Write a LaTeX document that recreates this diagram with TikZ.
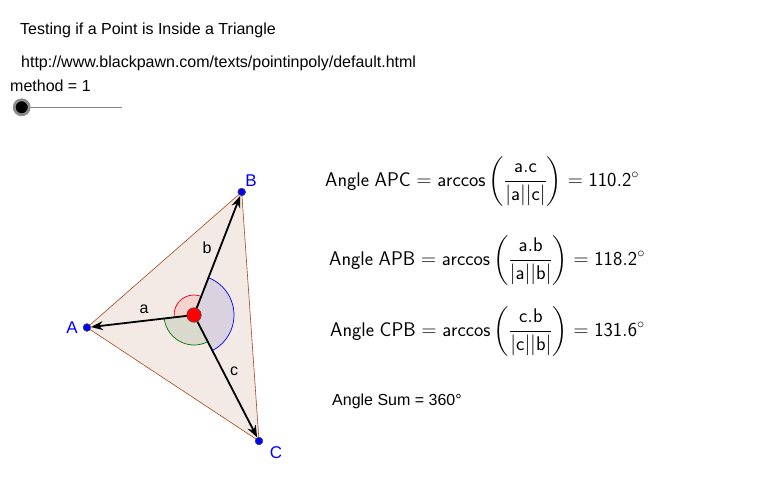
\documentclass[tikz,border=0pt]{standalone}
\usepackage{amsmath}
\usepackage{fontspec}
\setmainfont{Liberation Sans}
\usetikzlibrary{arrows.meta}
\definecolor{triangle}{RGB}{243,234,229}
\definecolor{triedge}{RGB}{165,75,30}
\tikzset{
    vertex/.style={circle,draw=black!70,fill=blue,inner sep=0,minimum size=7.5pt,line width=0.5pt},
    vertexlabel/.style={text=blue,font=\fontsize{17}{17}\selectfont,inner sep=0},
    veclabel/.style={font=\fontsize{16}{16}\selectfont,inner sep=0},
    plain/.style={anchor=base west,font=\fontsize{16}{16}\selectfont,inner sep=0},
    formula/.style={anchor=base west,font=\fontsize{19.8}{19.8}\selectfont,inner sep=0},
    vec/.style={line width=1.8pt,-{Stealth[length=12pt,width=9pt]}},
    edge/.style={draw=triedge,line width=0.6pt}
}
\newcommand{\mt}[1]{\mathsf{#1}}
\begin{document}
\begin{tikzpicture}[x=1pt,y=1pt]
    \useasboundingbox (0,0) rectangle (762,-487);
    \fill[white] (0,0) rectangle (762,-487);

    \node[vertex] (A) at (87,-327.5) {};
    \node[vertex] (B) at (241.7,-192) {};
    \node[vertex] (C) at (259,-441) {};
    \coordinate (P) at (194,-315);

    \fill[fill=triangle] (A.center) -- (B.center) -- (C.center) -- cycle;
    \draw[edge] (A.center) -- (B.center) -- (C.center) -- cycle;

    \filldraw[draw=red!90!blue,fill=red,fill opacity=0.1,line width=0.7pt] (P) -- +(68.9:20) arc (68.9:186.7:20) -- cycle;
    \filldraw[draw=blue,fill=blue!70!black,fill opacity=0.1,line width=0.7pt] (P) -- +(-62.7:40) arc (-62.7:68.9:40) -- cycle;
    \filldraw[draw=green!45!black,fill=green!30!black,fill opacity=0.1,line width=0.7pt] (P) -- +(186.7:30) arc (186.7:297.3:30) -- cycle;

    \draw[vec] (P) -- (A);
    \draw[vec] (P) -- (B);
    \draw[vec] (P) -- (C);

    \node[vertex] at (A) {};
    \node[vertex] at (B) {};
    \node[vertex] at (C) {};
    \node[circle,draw=black!70,fill=red,inner sep=0,minimum size=14.5pt,line width=0.6pt] (Pdot) at (P) {};

    \node[vertexlabel] (Alabel) at (72,-328) {A};
    \node[vertexlabel] (Blabel) at (251,-180.5) {B};
    \node[vertexlabel] (Clabel) at (276,-452.5) {C};
    \node[veclabel] (alabel) at (144,-309.5) {a};
    \node[veclabel] (blabel) at (207,-247.5) {b};
    \node[veclabel] (clabel) at (234,-371) {c};

    \node[plain] (title) at (20,-35) {Testing if a Point is Inside a Triangle};
    \node[plain] (url) at (21,-67) {http://www.blackpawn.com/texts/pointinpoly/default.html};
    \node[plain] (method) at (10,-91.5) {method = 1};

    \coordinate (sliderend) at (122,-107.3);
    \node[circle,fill=black,draw=black!45,line width=2.8pt,inner sep=0,minimum size=15pt] (knob) at (21.7,-107.3) {};
    \draw[black!50,line width=0.7pt] (knob) -- (sliderend);

    \node[formula] (apc) at (325,-186.5) {$\mt{Angle\ APC}=\mt{arccos}\left(\dfrac{\mt{a.c}}{|\mt{a}||\mt{c}|}\right)=\mt{110.2}^\circ$};
    \node[formula] (apb) at (329,-265.5) {$\mt{Angle\ APB}=\mt{arccos}\left(\dfrac{\mt{a.b}}{|\mt{a}||\mt{b}|}\right)=\mt{118.2}^\circ$};
    \node[formula] (cpb) at (330,-336.5) {$\mt{Angle\ CPB}=\mt{arccos}\left(\dfrac{\mt{c.b}}{|\mt{c}||\mt{b}|}\right)=\mt{131.6}^\circ$};
    \node[plain] (sum) at (332,-405) {Angle Sum = 360°};
\end{tikzpicture}
\end{document}
